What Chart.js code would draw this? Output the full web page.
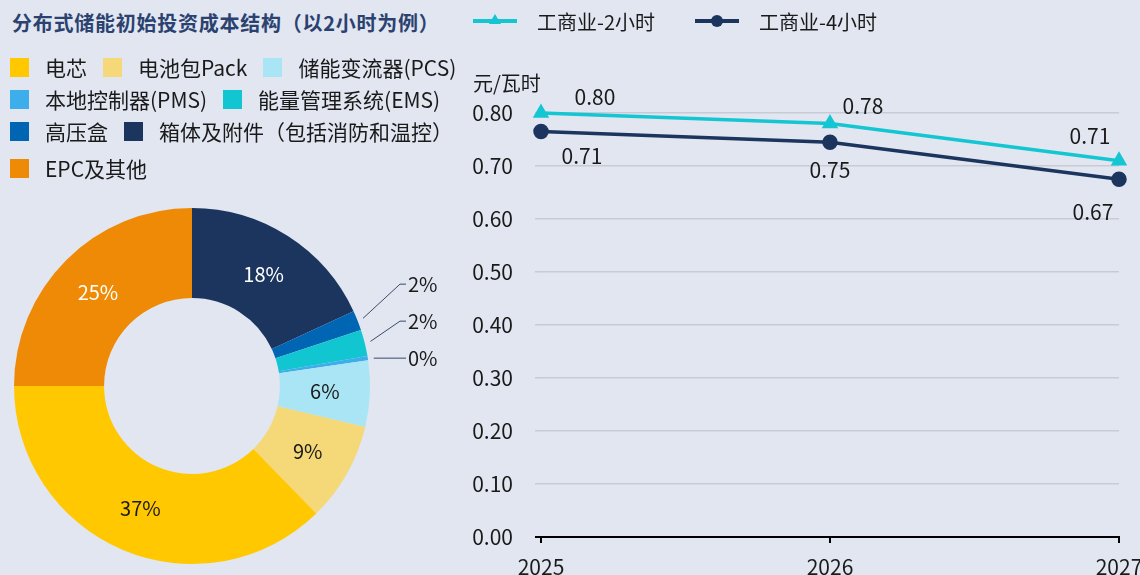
<!DOCTYPE html>
<html lang="zh">
<head>
<meta charset="utf-8">
<script src="https://cdn.jsdelivr.net/npm/chart.js@4.4.1/dist/chart.umd.min.js"></script>
<style>
  body { margin: 0; background: #e1e6f0; font-family: "Noto Sans CJK SC", "Noto Sans", sans-serif; color: #1a1a1a; }
  #wrap { position: relative; width: 1140px; height: 575px; overflow: hidden; }
  #title { position: absolute; left: 12px; top: 8px; font-size: 20px; letter-spacing: 0.75px; font-weight: bold; color: #2b4270; white-space: nowrap; }
  #pie-legend { position: absolute; left: 10px; top: 51px; width: 475px; display: flex; flex-wrap: wrap; }
  .pl-item { display: flex; align-items: center; height: 32px; margin-right: 16px; font-size: 21px; white-space: nowrap; }
  .pl-item:last-child { margin-top: 5px; }
  .pl-box { width: 19px; height: 19px; margin-right: 16px; }
  #pie-box { position: absolute; left: 0; top: 200px; width: 460px; height: 375px; }
  #line-legend { position: absolute; left: 473px; top: 8px; display: flex; align-items: center; height: 26px; }
  .ll-item { display: flex; align-items: center; margin-right: 40px; font-size: 20px; white-space: nowrap; }
  .ll-line { position: relative; width: 44px; height: 4px; margin-right: 20px; }
  .ll-mark { position: absolute; left: 50%; top: 50%; transform: translate(-50%, -50%); }
  #unit { position: absolute; left: 473px; top: 68px; font-size: 20px; }
  #line-box { position: absolute; left: 460px; top: 0; width: 680px; height: 575px; }
</style>
</head>
<body>
<div id="wrap">
  <div id="line-box"><canvas id="linePlot"></canvas></div>
  <div id="pie-box"><canvas id="piePlot"></canvas></div>
  <div id="title">分布式储能初始投资成本结构（以2小时为例）</div>
  <div id="pie-legend"></div>
  <div id="line-legend"></div>
  <div id="unit">元/瓦时</div>
</div>

<script>
// doughnut: cost structure (%), legend order
const pieCategories = ['电芯', '电池包Pack', '储能变流器(PCS)', '本地控制器(PMS)', '能量管理系统(EMS)', '高压盒', '箱体及附件（包括消防和温控）', 'EPC及其他'];
const pieValues = [37.3, 9.0, 6.0, 0.4, 2.4, 1.8, 18.1, 25.0];
const pieColors = ['#ffc800', '#f5d877', '#a9e5f4', '#3daeea', '#12c6d1', '#0066b3', '#1b355e', '#ee8a06'];
const pieTextColors = ['#1a1a1a', '#1a1a1a', '#1a1a1a', '#1a1a1a', '#1a1a1a', '#1a1a1a', '#ffffff', '#ffffff'];

// line: cost per Wh
const years = ['2025', '2026', '2027'];
const seriesNames = ['工商业-2小时', '工商业-4小时'];
const values2h = [0.80, 0.78, 0.71];
const values4h = [0.765, 0.745, 0.675];
const labels2h = ['0.80', '0.78', '0.71'];
const labels4h = ['0.71', '0.75', '0.67'];
const lineColors = ['#14c6d2', '#1b355e'];

Chart.defaults.font.family = '"Noto Sans CJK SC", "Noto Sans", sans-serif';
Chart.defaults.color = '#1a1a1a';

// html legends
const pieLegend = document.getElementById('pie-legend');
pieCategories.forEach((name, i) => {
    const item = document.createElement('div');
    item.className = 'pl-item';
    const box = document.createElement('span');
    box.className = 'pl-box';
    box.style.background = pieColors[i];
    item.append(box, document.createTextNode(name));
    pieLegend.append(item);
});

const lineLegend = document.getElementById('line-legend');
seriesNames.forEach((name, i) => {
    const item = document.createElement('div');
    item.className = 'll-item';
    const line = document.createElement('span');
    line.className = 'll-line';
    line.style.background = lineColors[i];
    const mark = document.createElement('span');
    mark.className = 'll-mark';
    if (i === 0) {
        mark.style.cssText += 'width:0;height:0;border-left:6px solid transparent;border-right:6px solid transparent;border-bottom:10px solid ' + lineColors[i] + ';margin-top:-2px;';
    } else {
        mark.style.cssText += 'width:12px;height:12px;border-radius:50%;background:' + lineColors[i] + ';';
    }
    line.append(mark);
    item.append(line, document.createTextNode(name));
    lineLegend.append(item);
});

// doughnut labels: inside for big slices, leader lines for small ones
const pieLabels = {
    id: 'pieLabels',
    afterDatasetsDraw(chart) {
        const c = chart.ctx;
        const meta = chart.getDatasetMeta(0);
        const ds = chart.data.datasets[0];
        const total = ds.data.reduce((a, b) => a + b, 0);
        c.save();
        c.font = '20px "Noto Sans CJK SC", "Noto Sans", sans-serif';
        c.textBaseline = 'middle';
        const small = [];
        meta.data.forEach((arc, i) => {
            const pct = ds.data[i] / total * 100;
            const mid = (arc.startAngle + arc.endAngle) / 2;
            const txt = Math.round(pct) + '%';
            if (pct < 3) { small.push({ arc, mid, txt }); return; }
            const r = (arc.innerRadius + arc.outerRadius) / 2;
            c.fillStyle = ds.textColors[i];
            c.textAlign = 'center';
            c.fillText(txt, arc.x + Math.cos(mid) * r, arc.y + Math.sin(mid) * r);
        });
        if (small.length) {
            const last = small[small.length - 1];
            const baseY = last.arc.y + Math.sin(last.mid) * last.arc.outerRadius;
            small.forEach((s, k) => {
                const a = s.arc;
                const ly = baseY - (small.length - 1 - k) * 37;
                const sx = a.x + Math.cos(s.mid) * (a.outerRadius + 6);
                const sy = k === small.length - 1 ? ly : a.y + Math.sin(s.mid) * (a.outerRadius + 6);
                const ex = a.x + a.outerRadius + 30;
                c.strokeStyle = '#3a4a6a';
                c.lineWidth = 1;
                c.beginPath();
                c.moveTo(sx, sy);
                c.lineTo(ex, ly);
                c.lineTo(ex + 6, ly);
                c.stroke();
                c.fillStyle = '#1a1a1a';
                c.textAlign = 'left';
                c.fillText(s.txt, ex + 8, ly);
            });
        }
        c.restore();
    }
};

const pieChart = new Chart(document.getElementById('piePlot').getContext('2d'), {
    type: 'doughnut',
    data: {
        labels: pieCategories.slice().reverse(),
        datasets: [{
            data: pieValues.slice().reverse(),
            backgroundColor: pieColors.slice().reverse(),
            textColors: pieTextColors.slice().reverse(),
            borderWidth: 0,
        }]
    },
    options: {
        responsive: true,
        maintainAspectRatio: false,
        animation: false,
        rotation: -90,
        cutout: '49.4%',
        layout: { padding: { left: 14, top: 8, right: 90, bottom: 11 } },
        plugins: { legend: { display: false }, tooltip: { enabled: false } }
    },
    plugins: [pieLabels]
});

// line point labels with per-point offsets
const pointLabels = {
    id: 'pointLabels',
    afterDatasetsDraw(chart) {
        const c = chart.ctx;
        c.save();
        c.font = '21px "Noto Sans CJK SC", "Noto Sans", sans-serif';
        c.fillStyle = '#1a1a1a';
        c.textAlign = 'center';
        c.textBaseline = 'middle';
        chart.data.datasets.forEach((ds, d) => {
            chart.getDatasetMeta(d).data.forEach((pt, i) => {
                const off = ds.labelOffsets[i];
                c.fillText(ds.pointLabels[i], pt.x + off[0], pt.y + off[1]);
            });
        });
        c.restore();
    }
};

const lineChart = new Chart(document.getElementById('linePlot').getContext('2d'), {
    type: 'line',
    data: {
        labels: years,
        datasets: [{
            label: seriesNames[0],
            data: values2h,
            pointLabels: labels2h,
            labelOffsets: [[54, -16], [33, -18], [-29, -25]],
            borderColor: lineColors[0],
            backgroundColor: lineColors[0],
            borderWidth: 3.5,
            pointStyle: 'triangle',
            pointRadius: 6,
            tension: 0,
            clip: false,
        }, {
            label: seriesNames[1],
            data: values4h,
            pointLabels: labels4h,
            labelOffsets: [[41, 24], [0, 28], [-26, 33]],
            borderColor: lineColors[1],
            backgroundColor: lineColors[1],
            borderWidth: 3.5,
            pointStyle: 'circle',
            pointRadius: 6,
            tension: 0,
            clip: false,
        }]
    },
    options: {
        responsive: true,
        maintainAspectRatio: false,
        animation: false,
        layout: { padding: { top: 113, right: 21, left: 0, bottom: 0 } },
        plugins: { legend: { display: false }, tooltip: { enabled: false } },
        scales: {
            x: {
                offset: false,
                afterFit: (s) => { s.height = 38; s.paddingLeft = 0; s.paddingRight = 0; },
                grid: { display: true, drawOnChartArea: false, drawTicks: true, tickLength: 6, color: '#000', lineWidth: 2 },
                border: { display: true, color: '#000', width: 2 },
                ticks: { font: { size: 21 }, color: '#1a1a1a', padding: 11, maxRotation: 0 }
            },
            y: {
                min: 0,
                max: 0.8,
                afterFit: (s) => { s.width = 81; },
                grid: {
                    drawTicks: true,
                    tickLength: 6,
                    color: (ctx) => ctx.tick && ctx.tick.value === 0 ? '#000' : '#c7cbd5',
                    lineWidth: (ctx) => ctx.tick && ctx.tick.value === 0 ? 2 : 1.5,
                },
                border: { display: false },
                ticks: {
                    stepSize: 0.1,
                    padding: 22,
                    font: { size: 21 },
                    color: '#1a1a1a',
                    callback: (v) => v.toFixed(2)
                }
            }
        }
    },
    plugins: [pointLabels]
});
</script>
</body>
</html>
